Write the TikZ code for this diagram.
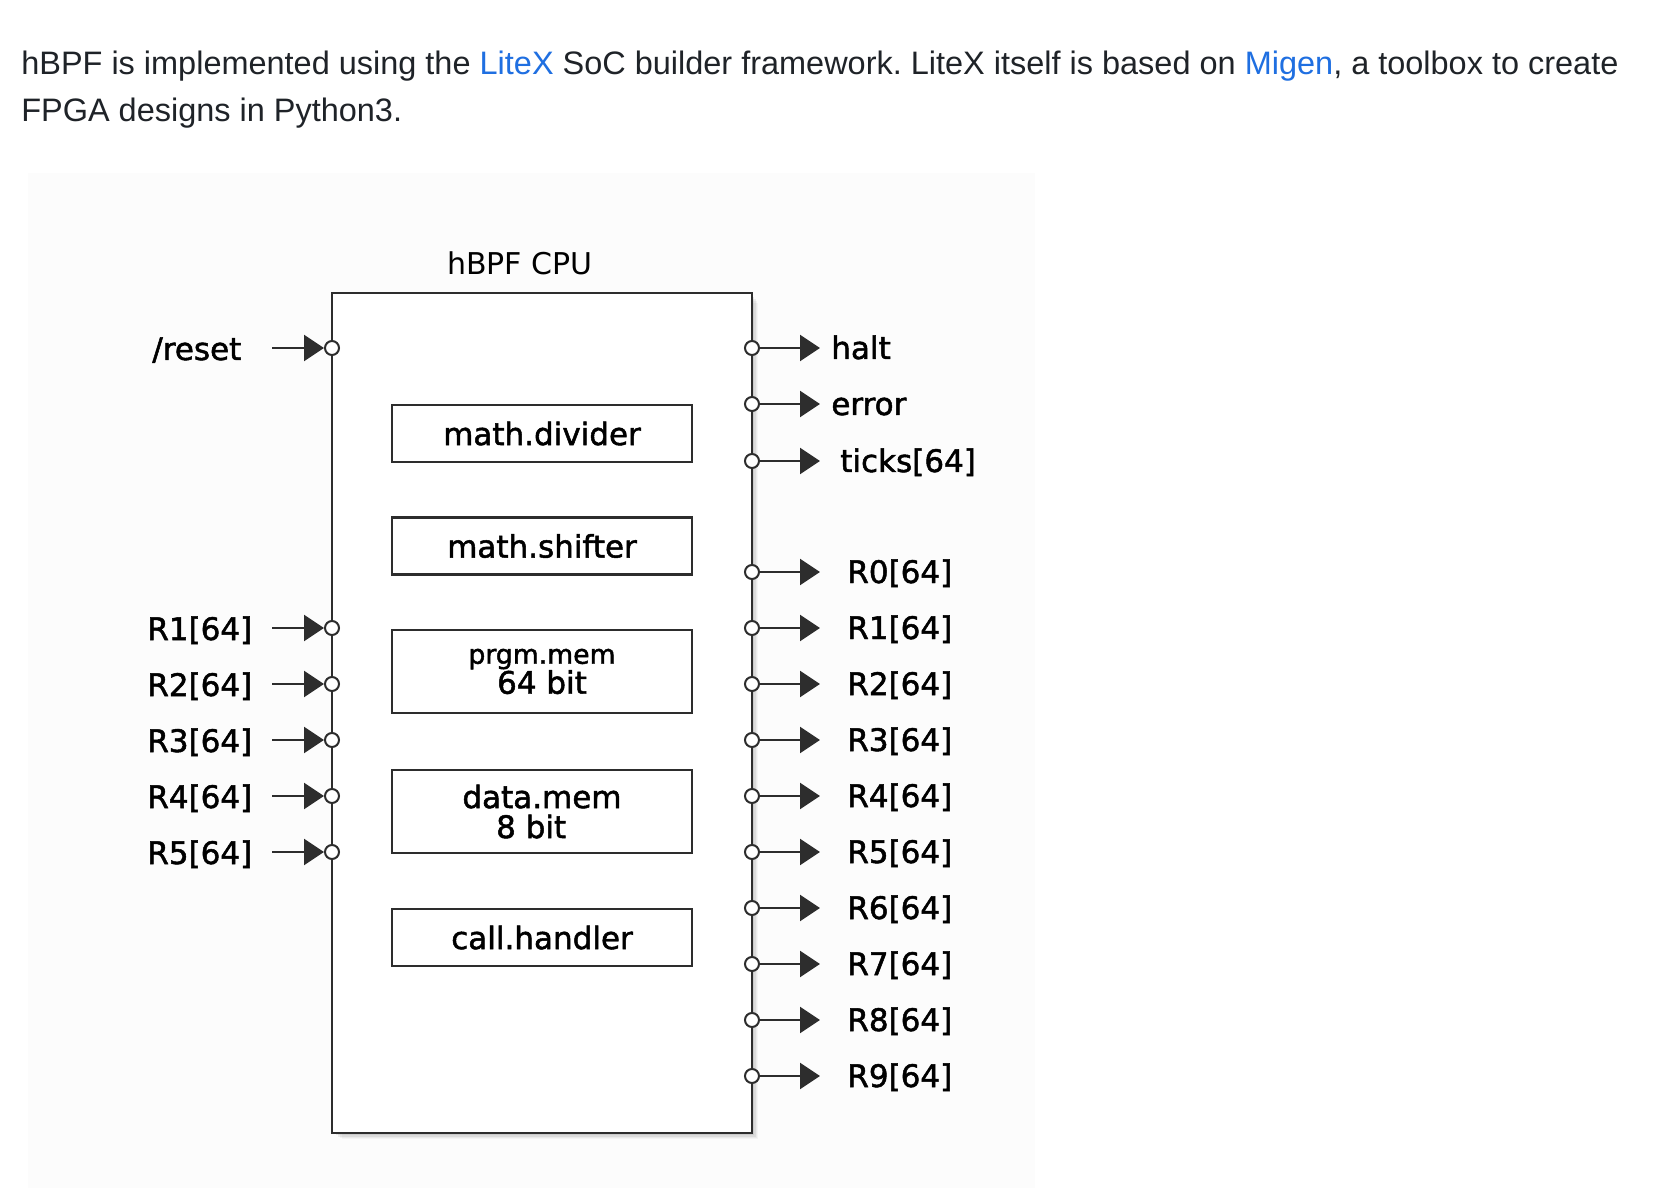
\documentclass[tikz,border=0pt]{standalone}
\usepackage{fontspec}
\setmainfont{DejaVu Sans}
\newfontfamily\hdrfont{Liberation Sans}
\newfontfamily\dfont[FakeBold=1.6]{DejaVu Sans}
\usetikzlibrary{arrows.meta}
\definecolor{txt}{RGB}{31,35,40}
\definecolor{lnk}{RGB}{31,111,225}
\definecolor{ln}{RGB}{45,45,45}
\definecolor{bgc}{RGB}{252,252,252}
\frenchspacing
\begin{document}
\begin{tikzpicture}[x=0.6pt,y=-0.6pt,
  lbl/.style={font=\dfont\fontsize{18.6pt}{20pt}\selectfont, text=black, inner sep=0pt},
  port/.style={circle, draw=ln, fill=white, line width=1.2pt, minimum size=8.4pt, inner sep=0pt},
  wire/.style={draw=ln, line width=1.3pt, -{Triangle[length=12pt,width=15.6pt]}},
  sub/.style={draw=ln, line width=1.5pt, fill=white, minimum width=180pt, inner sep=0pt,
    font=\dfont\fontsize{18.6pt}{18pt}\selectfont, align=center},
  cpu/.style={draw=ln, line width=1.7pt, fill=white, minimum width=252pt, minimum height=504pt, inner sep=0pt},
  hdr/.style={anchor=base west, inner sep=0pt, text=txt, font=\hdrfont\fontsize{19.48pt}{22pt}\selectfont},
]
\useasboundingbox (0,0) rectangle (1664,1188);
\fill[white] (0,0) rectangle (1664,1188);
\fill[bgc] (28,173) rectangle (1035,1188);

% header text
\node[hdr] (h1) at (21,75)
  {hBPF is implemented using the \textcolor{lnk}{LiteX} SoC builder framework. LiteX itself is based on \textcolor{lnk}{Migen}, a toolbox to create};
\node[hdr] (h2) at (21,122) {FPGA designs in Python3.};

% title
\node[lbl, anchor=base, font=\fontsize{18pt}{20pt}\selectfont] (title) at (520,275) {hBPF CPU};

% shadow
\foreach \s/\o in {2/0.10,4/0.08,6/0.06,8/0.04,10/0.03}
  \fill[black, opacity=\o] (332+\s,293+\s) rectangle (752+\s*0.6,1133+\s*0.6);

% main box
\node[cpu] (cpu) at (542,713) {};

% sub blocks
\node[sub, minimum height=34.2pt] (div) at (542,433.5) {math.divider};
\node[sub, minimum height=34.2pt] (shf) at (542,546) {math.shifter};
\node[sub, minimum height=49.8pt] (pmem) at (542,671.5) {{\fontsize{16pt}{18pt}\selectfont prgm.mem}\\64 bit};
\node[sub, minimum height=49.8pt] (dmem) at (542,811.5) {data.mem\\8 bit\hspace*{13pt}};
\node[sub, minimum height=34.2pt] (call) at (542,937.5) {call.handler};

% left inputs
\foreach \n/\t/\y/\lx in {rst/{/reset}/348/152, i1/R1[64]/628/147, i2/R2[64]/684/147, i3/R3[64]/740/147, i4/R4[64]/796/147, i5/R5[64]/852/147}{
  \node[lbl, anchor=base west] (l\n) at (\lx,\y+12) {\t};
  \node[port] (p\n) at (332,\y) {};
  \coordinate (s\n) at (272,\y);
  \draw[wire] (s\n) -- (p\n.west);
}

% right outputs
\foreach \n/\t/\y/\lx in {halt/halt/348/831, err/error/404/831, tck/ticks[64]/461/840,
   o0/R0[64]/572/847, o1/R1[64]/628/847, o2/R2[64]/684/847, o3/R3[64]/740/847, o4/R4[64]/796/847,
   o5/R5[64]/852/847, o6/R6[64]/908/847, o7/R7[64]/964/847, o8/R8[64]/1020/847, o9/R9[64]/1076/847}{
  \node[port] (p\n) at (752,\y) {};
  \coordinate (e\n) at (820,\y);
  \draw[wire] (p\n.east) -- (e\n);
  \node[lbl, anchor=base west] (l\n) at (\lx,\y+11) {\t};
}
\end{tikzpicture}
\end{document}
